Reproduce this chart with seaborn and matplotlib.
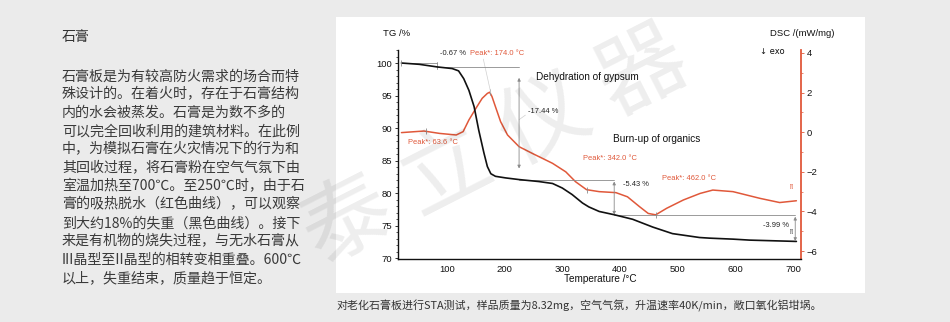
import matplotlib
matplotlib.use("Agg")
import matplotlib.pyplot as plt
import seaborn as sns
import pandas as pd
from matplotlib.patches import Rectangle
from matplotlib.ticker import MultipleLocator

# ---------------- data ----------------
tg_temp = [21, 52, 83, 109, 120, 129, 138, 147, 155, 164, 170, 176, 184, 202, 225,
           259, 283, 300, 317, 335, 346, 364, 390, 422, 457, 491, 538, 556, 596, 625, 706]
tg_mass = [100.0, 99.8, 99.4, 99.15, 98.8, 97.6, 95.8, 93.3, 89.7, 86.2, 84.1, 83.0, 82.6, 82.35, 82.1,
           81.8, 81.5, 80.8, 79.8, 78.5, 77.9, 77.2, 76.7, 76.0, 74.8, 73.8, 73.2, 73.1, 72.95, 72.8, 72.6]

dsc_temp = [21, 60, 87, 116, 128, 138, 150, 161, 170, 174, 178, 184, 193, 205, 225, 248, 283,
            306, 323, 342, 364, 393, 413, 434, 449, 462, 481, 510, 539, 561, 596, 643, 677, 706]
dsc_val = [-0.02, 0.06, -0.06, -0.14, 0.03, 0.62, 1.2, 1.71, 1.96, 2.02, 1.8, 1.29, 0.53, -0.14, -0.73, -1.07, -1.57,
           -2.0, -2.5, -2.9, -3.0, -3.05, -3.26, -3.76, -4.1, -4.17, -3.84, -3.42, -3.09, -2.92, -3.0, -3.34, -3.55, -3.46]

peak_temp = [63.6, 174.0, 342.0, 462.0]
peak_dsc = [0.06, 2.02, -2.9, -4.17]

step_temp = [83, 225, 390, 704]
step_level = [100.0, 99.33, 82.0, 76.6, 72.6]
step_label = ["-0.67 %", "-17.44 %", "-5.43 %", "-3.99 %"]

x_ticks = [100, 200, 300, 400, 500, 600, 700]
tg_ticks = [70, 75, 80, 85, 90, 95, 100]
dsc_ticks = [-6, -4, -2, 0, 2, 4]

title_cn = "石膏"
para_lines = [
    "石膏板是为有较高防火需求的场合而特",
    "殊设计的。在着火时，存在于石膏结构",
    "内的水会被蒸发。石膏是为数不多的",
    "可以完全回收利用的建筑材料。在此例",
    "中，为模拟石膏在火灾情况下的行为和",
    "其回收过程，将石膏粉在空气气氛下由",
    "室温加热至700℃。至250℃时，由于石",
    "膏的吸热脱水（红色曲线），可以观察",
    "到大约18%的失重（黑色曲线）。接下",
    "来是有机物的烧失过程，与无水石膏从",
    "III晶型至II晶型的相转变相重叠。600℃",
    "以上，失重结束，质量趋于恒定。",
]
caption = "对老化石膏板进行STA测试，样品质量为8.32mg，空气气氛，升温速率40K/min，敞口氧化铝坩埚。"
watermark = "泰立仪器"

# ---------------- style ----------------
sns.set_theme(style="white")
plt.rcParams['font.family'] = ['Liberation Sans', 'DejaVu Sans']
CJK = ['Noto Sans CJK SC', 'DejaVu Sans']
RED = '#e0583a'
GREY = '#8a8a8a'
BG = '#ebebeb'

W, H = 950, 322
fig = plt.figure(figsize=(9.5, 3.22), dpi=100, facecolor=BG)

def fx(px):
    return px / W

def fy(py):
    return 1 - py / H

# white panel behind the chart
fig.patches.append(Rectangle((fx(336), fy(293)), fx(865 - 336), (293 - 17) / H,
                             transform=fig.transFigure, facecolor='white',
                             edgecolor='none', zorder=-10))

# left text column
fig.text(fx(62), fy(37), title_cn, family=CJK, fontsize=10, color='#333333', va='center', ha='left')
for i, line in enumerate(para_lines):
    fig.text(fx(62), fy(76.3 + i * 18.33), line, family=CJK, fontsize=10.1,
             color='#3a3a3a', va='center', ha='left')

# caption
fig.text(fx(337), fy(306), caption, family=CJK, fontsize=7.9, color='#333333', va='center', ha='left')

# ---------------- chart ----------------
ax = fig.add_axes([fx(398), fy(259), fx(801 - 398), (259 - 50) / H])
ax2 = ax.twinx()
ax.set_zorder(2)
ax2.set_zorder(1)
ax.patch.set_visible(False)
ax2.patch.set_visible(False)

tg_df = pd.DataFrame({'T': tg_temp, 'TG': tg_mass})
dsc_df = pd.DataFrame({'T': dsc_temp, 'DSC': dsc_val})

sns.lineplot(data=dsc_df, x='T', y='DSC', ax=ax2, color=RED, lw=1.1, sort=False)
sns.lineplot(data=tg_df, x='T', y='TG', ax=ax, color='#111111', lw=1.2, sort=False)

ax.set_xlim(15, 714)
ax.set_ylim(69.9, 102)
ax2.set_ylim(-6.4, 4.15)

ax.set_xticks(x_ticks)
ax.set_yticks(tg_ticks)
ax2.set_yticks(dsc_ticks)
ax.xaxis.set_minor_locator(MultipleLocator(20))
ax.yaxis.set_minor_locator(MultipleLocator(1))
ax2.yaxis.set_minor_locator(MultipleLocator(1))

ax.set_xlabel('')
ax.set_ylabel('')
ax2.set_ylabel('')
ax2.set_xlabel('')

for a in (ax, ax2):
    a.tick_params(which='major', direction='out', length=2.5, width=0.6, labelsize=6.8,
                  pad=1.5, colors='#111111')
    a.tick_params(which='minor', direction='out', length=1.4, width=0.5, colors='#111111')

for s in ['top', 'right']:
    ax.spines[s].set_visible(False)
for s in ['top', 'left', 'bottom']:
    ax2.spines[s].set_visible(False)
ax2.spines['right'].set_visible(True)
ax.spines['left'].set_color('#111111')
ax.spines['bottom'].set_color('#111111')
ax.spines['left'].set_linewidth(1.0)
ax.spines['bottom'].set_linewidth(1.0)
ax2.spines['right'].set_color(RED)
ax2.spines['right'].set_linewidth(1.3)
ax2.tick_params(axis='y', which='both', colors=RED, labelcolor='#111111')

# axis titles
fig.text(fx(383), fy(33), "TG /%", fontsize=6.8, color='#111111', va='center', ha='left')
fig.text(fx(835), fy(34), "DSC /(mW/mg)", fontsize=6.8, color='#111111', va='center', ha='right')
fig.text(fx(760), fy(52), "↓ exo", fontsize=6, color='#111111', va='center', ha='left',
         family=['DejaVu Sans'])
fig.text(fx(600), fy(279), "Temperature /°C", fontsize=7.2, color='#111111', va='center', ha='center')

# ---------------- annotations ----------------
ln = dict(color=GREY, lw=0.6, zorder=1)
ax.plot([tg_temp[0], step_temp[0]], [step_level[0], step_level[0]], **ln)
ax.plot([step_temp[0], step_temp[0]], [step_level[0] + 0.1, step_level[1] - 0.3], **ln)
ax.plot([step_temp[0], step_temp[1]], [step_level[1], step_level[1]], **ln)
ax.plot([step_temp[1], step_temp[2]], [step_level[2], step_level[2]], **ln)
ax.plot([step_temp[2], step_temp[3]], [step_level[3], step_level[3]], **ln)

arrow = dict(arrowstyle='<|-|>', color=GREY, lw=0.6, mutation_scale=4.5, shrinkA=0, shrinkB=0)
ax.annotate('', xy=(step_temp[1], step_level[2] + 1.8), xytext=(step_temp[1], step_level[1] - 1.6),
            arrowprops=arrow)
ax.annotate('', xy=(step_temp[2], step_level[3] + 0.1), xytext=(step_temp[2], step_level[2] - 0.2),
            arrowprops=arrow)
ax.annotate('', xy=(step_temp[3], step_level[4] + 0.05), xytext=(step_temp[3], step_level[3] - 0.2),
            arrowprops=arrow)

# tick marks on the curves
ax.plot([tg_temp[0]], [tg_mass[0]], marker='|', ms=4, mew=0.6, color=GREY)
ax2.plot(peak_temp, peak_dsc, ls='none', marker='|', ms=4, mew=0.6, color=GREY, zorder=3)

small = 5.4
ax.text(88, 101.5, step_label[0], fontsize=small, color='#222222', va='center', ha='left')
ax.text(140, 101.5, f"Peak*: {peak_temp[1]:.1f} °C", fontsize=small, color=RED, va='center', ha='left')
ax.text(240, 92.5, step_label[1], fontsize=small, color='#222222', va='center', ha='left')
ax.text(405, 81.3, step_label[2], fontsize=small, color='#222222', va='center', ha='left')
ax.text(648, 75.05, step_label[3], fontsize=small, color='#222222', va='center', ha='left')
ax.text(32, 87.8, f"Peak*: {peak_temp[0]:.1f} °C", fontsize=small, color=RED, va='center', ha='left')
ax.text(336, 85.3, f"Peak*: {peak_temp[2]:.1f} °C", fontsize=small, color=RED, va='center', ha='left')
ax.text(473, 82.25, f"Peak*: {peak_temp[3]:.1f} °C", fontsize=small, color=RED, va='center', ha='left')
ax.text(254, 97.9, "Dehydration of gypsum", fontsize=7.2, color='#111111', va='center', ha='left')
ax.text(388, 88.4, "Burn-up of organics", fontsize=7.2, color='#111111', va='center', ha='left')

# faint leader lines
lead = dict(color='#d0d0d0', lw=0.5, zorder=0)
ax.plot([163, 176], [100.6, 95.4], **lead)
ax.plot([236, 225], [92.0, 91.3], **lead)

# tiny markers at the curve ends
ax.text(698, 81.1, "[!]", fontsize=3.5, color=RED, ha='center', va='center')
ax.text(698, 74.2, "[!]", fontsize=3.5, color='#444444', ha='center', va='center')

# watermark
x0, y0 = 348, 222
for i, ch in enumerate(watermark):
    fig.text(fx(x0 + i * 98), fy(y0 - i * 50), ch, family=CJK, fontsize=64, color='black',
             alpha=0.07, rotation=27, ha='center', va='center', rotation_mode='anchor', zorder=10)

fig.savefig('out.png', dpi=100, facecolor=BG)
